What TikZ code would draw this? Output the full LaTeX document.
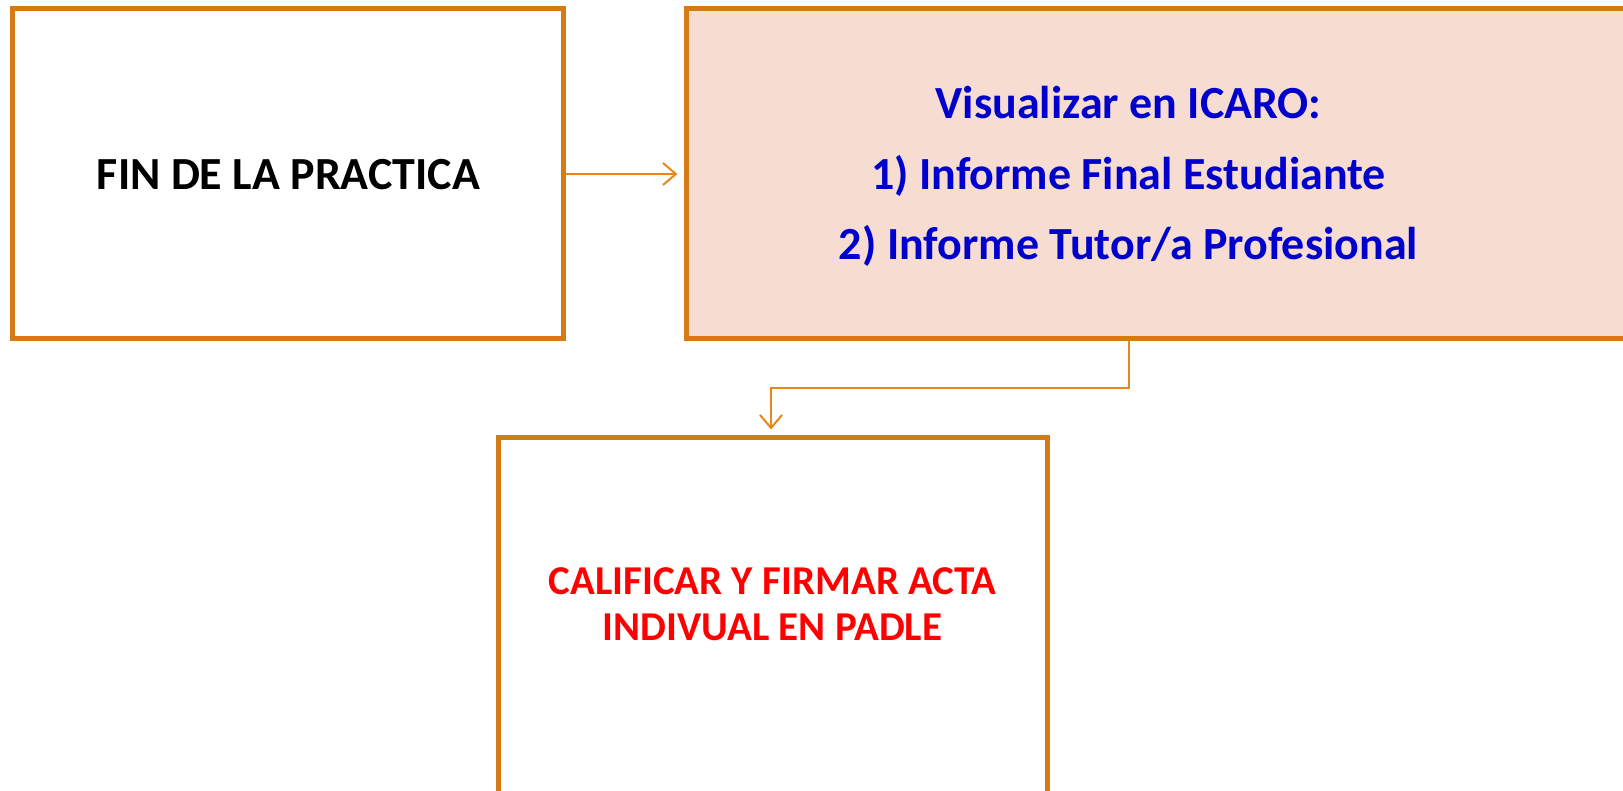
\documentclass[tikz,border=0pt]{standalone}
\usepackage{fontspec}
\setmainfont{Carlito}
\usetikzlibrary{arrows.meta}
\definecolor{boxline}{RGB}{213,122,20}
\definecolor{arrowline}{RGB}{232,134,26}
\definecolor{boxfill}{RGB}{246,220,209}
\definecolor{txtblue}{RGB}{0,0,204}
\definecolor{txtred}{RGB}{255,0,0}
\tikzset{
  box/.style={draw=boxline, line width=5pt, rectangle, inner sep=0pt},
  conn/.style={draw=arrowline, line width=2pt, -{Straight Barb[length=13pt,width=22pt,line width=2pt]}, shorten >=6pt},
  bigtxt/.style={font=\fontsize{46}{54}\selectfont\bfseries, inner sep=0pt, anchor=base},
  redtxt/.style={font=\fontsize{41}{48}\selectfont\bfseries, inner sep=0pt, anchor=base, text=txtred}
}
\begin{document}
\begin{tikzpicture}[x=1pt,y=-1pt]
\useasboundingbox (0,0) rectangle (1623,791);
\clip (0,0) rectangle (1623,791);
\node[box, fill=white, minimum width=551pt, minimum height=330pt] (b1) at (287.5,174) {};
\node[box, fill=boxfill, minimum width=1000pt, minimum height=330pt] (b2) at (1186,174) {};
\node[box, fill=white, minimum width=549pt, minimum height=420pt] (b3) at (772.5,648) {};
\node[bigtxt] (t1) at (288.5,190) {FIN DE LA PRACTICA};
\node[bigtxt, text=txtblue] (t2) at (1128.5,119) {Visualizar en ICARO:};
\node[bigtxt, text=txtblue] (t3) at (1128.5,190) {1) Informe Final Estudiante};
\node[bigtxt, text=txtblue] (t4) at (1128.5,260) {2) Informe Tutor/a Profesional};
\node[redtxt] (t5) at (772.5,594) {CALIFICAR Y FIRMAR ACTA};
\node[redtxt] (t6) at (772.5,640) {INDIVUAL EN PADLE};
\coordinate (c1) at (1129,388);
\coordinate (c2) at (771,388);
\draw[conn] (b1.east) -- (b2.west);
\draw[conn] (b2.south -| c1) -- (c1) -- (c2) -- (c2 |- b3.north);
\end{tikzpicture}
\end{document}
